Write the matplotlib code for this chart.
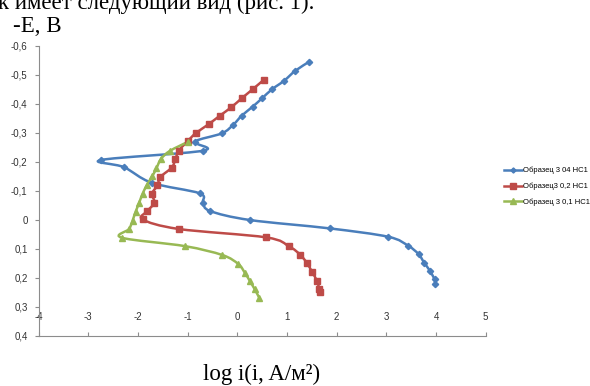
import matplotlib
matplotlib.use("Agg")
import matplotlib.pyplot as plt
from matplotlib.path import Path
from matplotlib.patches import PathPatch
from matplotlib.lines import Line2D
import numpy as np

# Образец 3 04 НС1
x_04 = [1.45, 1.17, 0.94, 0.70, 0.50, 0.31, 0.09, -0.08, -0.31, -0.86, -0.69, -2.74, -2.28,
        -1.72, -0.76, -0.69, -0.55, 0.25, 1.86, 3.04, 3.44, 3.65, 3.76, 3.88, 3.97, 3.98]
e_04 = [-0.545, -0.514, -0.479, -0.450, -0.419, -0.390, -0.359, -0.328, -0.298, -0.269, -0.238,
        -0.206, -0.181, -0.127, -0.091, -0.059, -0.030, 0.001, 0.030, 0.059, 0.090, 0.119,
        0.148, 0.177, 0.206, 0.222]

# Образец3 0,2 НС1
x_02 = [0.53, 0.31, 0.09, -0.12, -0.35, -0.58, -0.84, -1.00, -1.18, -1.25, -1.32, -1.55, -1.61,
        -1.72, -1.67, -1.81, -1.91, -1.18, 0.58, 1.04, 1.26, 1.40, 1.50, 1.60, 1.65, 1.66]
e_02 = [-0.482, -0.450, -0.419, -0.388, -0.359, -0.329, -0.298, -0.271, -0.238, -0.208, -0.180,
        -0.147, -0.118, -0.089, -0.059, -0.030, -0.001, 0.032, 0.061, 0.092, 0.120, 0.149,
        0.179, 0.210, 0.240, 0.250]

# Образец 3 0,1 НС1
x_01 = [-0.99, -1.36, -1.54, -1.63, -1.71, -1.82, -1.91, -1.98, -2.05, -2.11, -2.18, -2.33,
        -1.06, -0.30, 0.02, 0.15, 0.25, 0.35, 0.44]
e_01 = [-0.269, -0.237, -0.209, -0.177, -0.151, -0.120, -0.089, -0.057, -0.027, 0.003, 0.032,
        0.062, 0.091, 0.122, 0.153, 0.183, 0.211, 0.240, 0.269]

labels = ["Образец 3 04 НС1", "Образец3 0,2 НС1", "Образец 3 0,1 НС1"]
colors = ["#4a7ebb", "#be4b48", "#98b954"]
markers = ["D", "s", "^"]
msizes = [3.2, 4.6, 4.6]

x_ticks = [-4, -3, -2, -1, 0, 1, 2, 3, 4, 5]
y_ticks = [-0.6, -0.5, -0.4, -0.3, -0.2, -0.1, 0, 0.1, 0.2, 0.3, 0.4]


def smooth_path(xs, ys):
    # Excel-style smoothed line (Catmull-Rom as cubic Bezier)
    p = np.column_stack([xs, ys])
    n = len(p)
    verts = [p[0]]
    codes = [Path.MOVETO]
    for i in range(n - 1):
        p0 = p[i - 1] if i > 0 else p[i]
        p3 = p[i + 2] if i + 2 < n else p[i + 1]
        c1 = p[i] + (p[i + 1] - p0) / 6
        c2 = p[i + 1] - (p3 - p[i]) / 6
        verts += [c1, c2, p[i + 1]]
        codes += [Path.CURVE4] * 3
    return Path(verts, codes)


fig = plt.figure(figsize=(5.9, 3.86), dpi=100)
ax = fig.add_axes([0.0656, 0.1303, 0.7576, 0.7513])

series = [(x_04, e_04), (x_02, e_02), (x_01, e_01)]
handles = []
for (xs, ys), c, m, ms, lab in zip(series, colors, markers, msizes, labels):
    ax.add_patch(PathPatch(smooth_path(xs, ys), fill=False, edgecolor=c, lw=1.8,
                           capstyle="round", joinstyle="round"))
    ax.plot(xs, ys, linestyle="none", marker=m, color=c, markersize=ms)
    handles.append(Line2D([], [], color=c, lw=1.8, marker=m, markersize=ms - 0.6, label=lab))

ax.set_xlim(-4, 5)
ax.set_ylim(0.4, -0.6)
ax.set_xticks(x_ticks)
ax.set_yticks(y_ticks)
ax.set_xticklabels([str(t) for t in x_ticks])
ax.set_yticklabels(["0" if t == 0 else f"{t:.1f}".replace(".", ",") for t in y_ticks])

for s in ["top", "right"]:
    ax.spines[s].set_visible(False)
for s in ["left", "bottom"]:
    ax.spines[s].set_color("#8c8c8c")
    ax.spines[s].set_linewidth(0.8)

ax.tick_params(axis="y", direction="out", length=3, color="#8c8c8c", labelsize=7, pad=5)
ax.tick_params(axis="x", direction="in", length=3, color="#8c8c8c", labelsize=7, pad=-17)
for t in ax.get_xticklabels() + ax.get_yticklabels():
    t.set_fontfamily("Liberation Sans")
    t.set_color("#333333")

fig.legend(handles=handles, loc="upper left", bbox_to_anchor=(504 / 590, 1 - 167 / 386),
           frameon=False, handlelength=2.3, handletextpad=0.2,
           labelspacing=1.1, borderaxespad=0, borderpad=0,
           prop={"family": "Liberation Sans", "size": 5.5})

fig.text(-0.004, 1 - 9 / 386, "к имеет следующий вид (рис. 1).", family="Liberation Serif",
         fontsize=16.5, va="baseline", ha="left")
fig.text(13 / 590, 1 - 32 / 386, "-E, B", family="Liberation Serif",
         fontsize=16.5, va="baseline", ha="left")
fig.text(262 / 590, 1 - 380 / 386, "log i(i, A/м²)", family="Liberation Serif",
         fontsize=16.5, va="baseline", ha="center")

fig.savefig("out.png", dpi=100)
